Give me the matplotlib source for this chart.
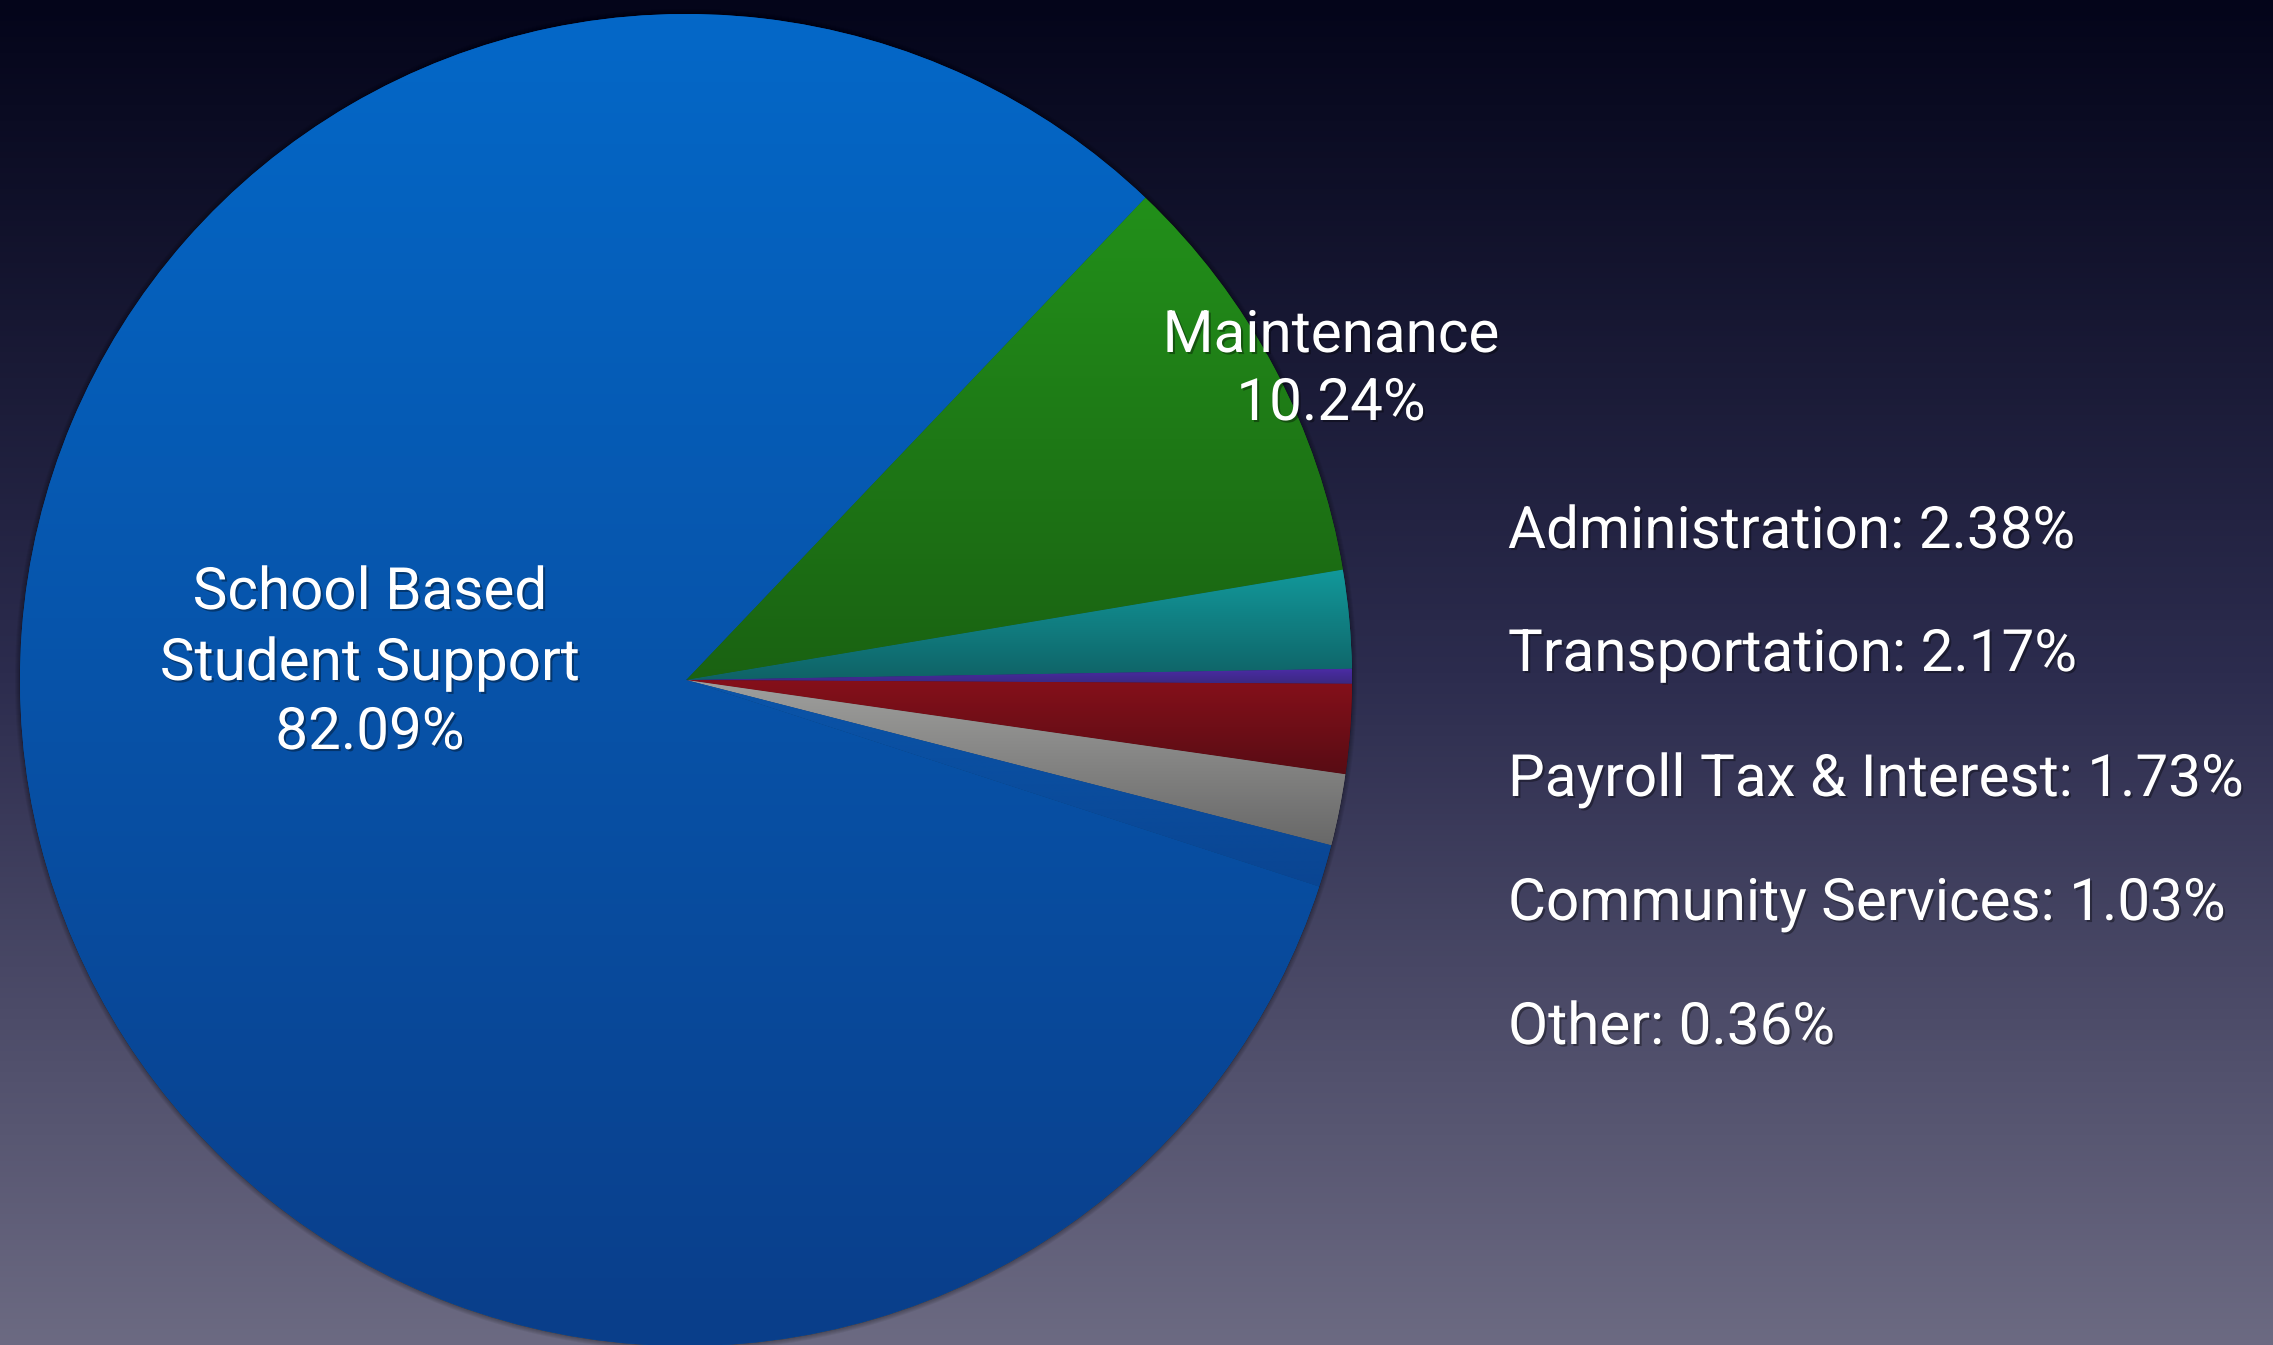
import numpy as np
import matplotlib
matplotlib.use('Agg')
from matplotlib import pyplot as plt
from matplotlib.colors import LinearSegmentedColormap
from matplotlib.patches import Circle
import matplotlib.patheffects as pe

# budget share, clockwise from the top right
names = ['Maintenance', 'Administration', 'Other', 'Transportation',
         'Payroll Tax & Interest', 'Community Services', 'School Based Student Support']
shares = [10.24, 2.38, 0.36, 2.17, 1.73, 1.03, 82.09]
# (top colour, bottom colour) for each wedge
tops = ['#22901a', '#12999b', '#4c2ca6', '#86101a', '#a0a09e', '#0a55aa', '#0468c8']
bottoms = ['#1a6212', '#0f6266', '#3a2880', '#580c14', '#686868', '#0a4592', '#0a3e8a']

# names listed on the right side
side_names = ['Administration', 'Transportation', 'Payroll Tax & Interest',
              'Community Services', 'Other']

W, H = 2273, 1345
fig = plt.figure(figsize=(W / 100, H / 100), dpi=100)
ax = fig.add_axes([0, 0, 1, 1])

# background gradient
bg = LinearSegmentedColormap.from_list('bg', ['#6c6a82', '#2c2c4e', '#04051a'])
grad = np.linspace(0, 1, 256).reshape(-1, 1)
ax.imshow(grad, cmap=bg, extent=[0, W, 0, H], origin='lower', aspect='auto', zorder=0)

cx, cy, r = 686, 665, 666
# soft shadow round the pie
for k in range(1, 6):
    ax.add_patch(Circle((cx, cy), r + k, facecolor='black', alpha=0.06,
                        edgecolor='none', zorder=1))

wedges, _ = ax.pie(shares, colors=tops, startangle=46.4, counterclock=False,
                   center=(cx, cy), radius=r, frame=True,
                   wedgeprops=dict(linewidth=0.5, edgecolor=(0, 0, 0, 0.25), zorder=2))

# vertical gradient inside every wedge
for w, c0, c1 in zip(wedges, tops, bottoms):
    bb = w.get_path().get_extents(w.get_patch_transform())
    cm = LinearSegmentedColormap.from_list('w', [c1, c0])
    im = ax.imshow(grad, cmap=cm, extent=[bb.x0, bb.x1, bb.y0, bb.y1],
                   origin='lower', aspect='auto', zorder=2.5)
    im.set_clip_path(w)

ax.set_xlim(0, W)
ax.set_ylim(0, H)
ax.set_aspect('auto')
ax.axis('off')

shadow = [pe.withSimplePatchShadow(offset=(1.5, -1.5), shadow_rgbFace='black', alpha=0.35)]
font = dict(family='Roboto', fontsize=42, color='white', zorder=5, path_effects=shadow)

# labels inside the pie
for line, y in zip(['School Based', 'Student Support', '%.2f%%' % shares[6]], [736, 665, 596]):
    ax.text(370, y, line, ha='center', va='baseline', **font)
for line, y in zip(['Maintenance', '%.2f%%' % shares[0]], [993, 925]):
    ax.text(1331, y, line, ha='center', va='baseline', **font)

# list of the small slices
ys = [797, 674, 549, 425, 301]
for n, y in zip(side_names, ys):
    ax.text(1508, y, '%s: %.2f%%' % (n, shares[names.index(n)]), ha='left', va='baseline', **font)

fig.savefig('out.png', dpi=100)
